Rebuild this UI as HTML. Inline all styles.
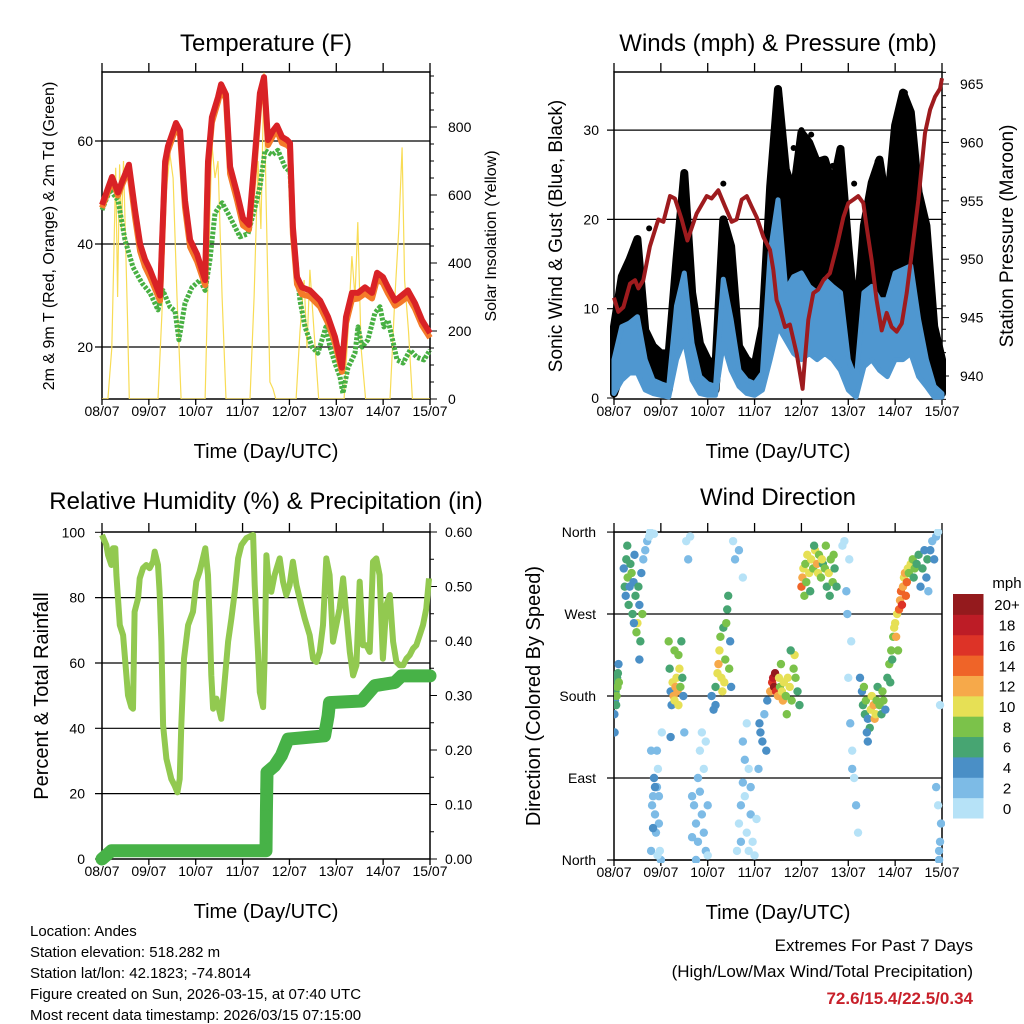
<!DOCTYPE html>
<html><head><meta charset="utf-8"><style>
html,body{margin:0;padding:0;background:#fff}
svg{display:block}
text{font-family:"Liberation Sans",Arial,sans-serif;fill:#000}
</style></head><body>
<svg id="s" width="1024" height="1024" viewBox="0 0 1024 1024" xmlns="http://www.w3.org/2000/svg">
<rect width="1024" height="1024" fill="#fff"/>
<g id="g"></g>
</svg>
<script>
// ---------- Temperature panel data ----------
const tempHours=[0,5.1,8.2,10.2,13.8,16.9,19.5,22,24.6,29.7,32.3,33.8,37.9,40,42.5,45.1,48.7,52.8,54.3,56.3,59.4,61,63.5,65.6,69.1,72.2,75.3,78.4,80.9,83,85,87.6,89.6,92.2,94.8,96.3,97.8,99.9,102.4,106.5,111.7,115.8,119.3,122.9,125,128,131.1,134.7,138.3,140.9,143.9,146.5,150.1,152.6,156.7,160.3,163.9,168];
const temp2m=[47.6,53,50,52,55.4,46.6,40,37,35,30,56,59,63.5,62,48.5,40.8,38,33,56,64.6,68.5,71,69,55,50,45,43.7,57.7,69.3,72.4,60.2,62,63,60.8,60.2,59.6,43.3,33.6,31.6,31,29,25.8,22,16,25.8,30.5,30.5,31.6,30.5,34.4,33.6,31.6,29,29.7,31,28.5,25.2,22.7];
const temp9m=[47.4,52.8,49.8,51.8,55,45.6,39,36,34,29.4,55.5,58.5,63,61.5,47.5,39.8,37,32.4,55.5,64,68,70.6,68.5,54,49,44,43.2,57,69,72,59.6,61.4,62.4,60,59.6,59,42.3,32.6,30.6,30.2,28.2,25,21.2,15.6,25,29.6,29.8,30.8,29.8,33.6,32.8,30.8,28.4,29,30.2,27.8,24.6,22.2];
const dewHours=[0,4.1,8.2,11.8,15.9,20.5,24.6,28.7,31.2,34.8,37.4,39.4,42.5,46.1,50.2,52.8,55.3,57.9,61.5,64.5,68.1,70.7,74.8,78.4,80.9,83.5,87.1,90.1,93.7,96.3,97.8,99.9,101.4,104,107.6,110.6,112.7,114.7,116.8,119.3,121.9,123.4,126,129.6,131.1,133.2,136.2,139.8,142.4,144.4,146.5,148.5,151.1,154.2,157.8,161.3,164.9,168];
const dewPoint=[46.6,50.5,48.5,40.8,35.5,32.4,30.5,27.2,31,27.8,27,21.4,28.5,31.6,33,31,37,46,48,46,43.3,41.4,42,47.2,51,58.2,57.3,58.2,55,54,43.3,34.4,29,23.9,20,18.8,21.4,23.9,20,16.9,14.2,11,16,18.8,23.9,20,21.4,26.6,27.8,23.9,25.2,22,17.5,16.9,19.4,18,17.5,19.4];
const solarHours=[0,3,5,6,7,8,9,10,11,13,14,28.7,30.7,32.8,34.8,36.4,38.4,40.5,52.8,54.3,56.3,57.9,59.4,61.5,63.5,75.8,77.9,79.9,81.4,83,84,86,87.6,89,99.4,101.4,103.5,105,106.5,108.6,111,124,126,128,129.6,131,132.7,135,147.5,150,152,153.7,155,157,159,168];
const solarVals=[0,0,150,400,680,300,690,500,700,250,0,0,250,600,720,650,300,0,0,350,750,650,700,300,0,0,300,700,500,960,600,50,30,0,0,200,350,150,380,200,0,0,200,420,300,520,150,0,0,300,500,740,350,200,0,0];
const tempTicks=[20,40,60];
const solarTicks=[0,200,400,600,800];
const dayLabels=["08/07","09/07","10/07","11/07","12/07","13/07","14/07","15/07"];

// ---------- Winds panel data ----------
const windHours=[0,4,8,12,16,20,24,28,32,36,40,44,48,52,56,60,64,68,72,76,80,84,88,92,96,100,104,108,112,116,120,124,128,132,136,140,144,148,152,156,160,164,168];
const gustHigh=[8,13.6,15.5,17.8,7.6,5.8,5,5,15.5,25.2,11.8,6.1,4.3,3.6,20,17,5.8,4.3,3.6,8,23.7,34.6,25.6,23,29.7,28.6,26.4,26.7,23.7,27.9,17,8,19.3,24.1,26.7,21.1,30.5,34.2,32,23,19.3,8,4.3];
const gustLow=[0.5,3.1,5.4,5.8,3.5,1.3,0.9,0.9,8,11.8,5,2,1.3,0.9,11.8,8.8,3.1,1.6,1.3,2,11.8,15.5,11.8,12.1,11,11.8,11.8,11.8,10.6,10.3,5,3.1,8.8,11.8,11,10.3,11.8,13.6,11.8,8,5,2.4,0.5];
const windHigh=[4.3,8,8.4,9.1,4.3,2,1.6,1.3,10.3,14,6.1,2.4,1.6,1.3,13.3,8.8,3.1,2,1.6,2.8,16.3,22.2,12.1,13.6,14,12.5,11.8,13.3,12.5,11.8,4.3,2,11.8,12.5,11,11,14,14.4,14.8,8.8,4.3,1.3,0.5];
const windLow=[0.5,2,2.8,2.8,0.9,0.5,0.3,0.1,4.3,6.5,2,0.5,0.3,0.3,6.1,3.1,1.3,0.5,0.3,0.9,4.3,8,6.5,5,4.3,5,4.3,5,4.3,3.1,0.9,0.1,3.5,4.3,3.1,2.4,4.3,4.3,5,2.4,1.3,0.1,0.1];
const gustOutHours=[84,85,96,92,101,112,123,135,146,149,150,18,36,56];
const gustOutVals=[34.6,33.5,30,28,29.5,26,24,26.5,31.5,34.2,33,19,24.5,24];
const presHours=[0,2.2,4.8,8.2,10.8,12.5,15,18.4,22.7,25.3,28.7,31.2,34.7,37.6,42.3,47.5,50,53.4,56.9,60.3,62.8,65.4,68,70.5,73.1,76.5,79.9,81.6,83.3,85,87.6,90.1,93.6,96.6,97.8,99.5,102.1,104.6,107.2,110.6,114.1,117.5,120,122.6,125.1,127.7,129.4,132,134.5,137.1,139.7,142.2,144.8,147.4,149.9,152.5,155.9,159.3,161.9,164.4,167,168];
const pressure=[946.7,945.5,945.9,947.9,948.2,947.5,948.2,951.1,953.4,953.2,955.4,955.2,953.4,951.6,953.9,955.4,955.2,955.9,954.5,953.2,953.4,955.1,955.4,954.5,953.6,951.9,950.8,949.1,946.5,945.7,944.2,944.4,941.9,938.9,941.4,944.8,947.1,947.4,948.2,948.8,951.1,953.6,954.8,955.1,955.4,954.8,952.8,949.9,946.5,943.9,945.4,944.2,943.8,944.5,947.1,950.5,955.1,960.8,962.8,963.9,964.6,965.5];
const windTicks=[0,10,20,30];
const presTicks=[940,945,950,955,960,965];

// ---------- RH panel data ----------
const rhHours=[0,2.2,3.1,4.8,5.6,6.8,7.4,9.1,10.8,12.5,13.3,15,15.9,16.7,18.5,19.3,21,22.7,24.4,26.1,27,28.7,29.5,30.4,31.3,33,35.5,37.2,38.6,39.8,40.6,42,44.1,46.6,48.3,50,51.7,52.9,54.3,55.2,56,56.9,58.6,60.3,61.1,62.8,64.6,66.3,68,69.7,71.4,73.9,75.6,77.4,78.2,79.1,79.9,80.8,82.5,83.3,84.2,85,86.7,88.4,91,92.7,94.4,96.1,97.8,99.6,102.1,103.8,106.4,108.1,109.8,111.5,113.2,114.9,116.6,118.3,120,121.7,123.5,125.2,126.9,128.6,130.3,132,133.7,135.4,137.1,138.8,140.5,142.2,143.9,145.6,147.4,149.1,150.8,152.5,154.2,155.9,157.6,159.3,161,162.7,164.4,166.1,167.5];
const rhVals=[99.2,96.1,93,90,95.1,95.1,86.9,71.6,68.5,56.2,50.1,46.5,46,75.7,79.8,85.9,89,90,89,91,94.1,90,81.8,66.5,40.9,30.7,24.5,22.5,20.4,24.5,40.9,61.3,71.6,75.7,84.9,87.9,92,95.1,86.9,71.6,56.2,46,49.1,45,42.9,54.2,66.5,73.6,81.8,92,96.1,98.2,98.7,99.2,83.8,72.6,63.4,51.1,46.5,61.3,93,86.9,81.8,86.9,92,84.9,80.8,83.8,91,83.8,77.7,73.6,68.5,61.3,60.3,63.4,71.6,92,86.9,66.5,71.6,76.7,85.9,74.6,63.4,56.2,59.3,84.9,65.4,65.4,63.4,91,92,86.9,61.3,77.7,80.8,66.5,60.3,59.3,59.3,61.3,62.4,64.4,65.4,68.5,71.6,76.7,85.9];
const rainHours=[0,4.8,84,84.2,84.5,88.4,91.9,95.3,114,115.8,116.5,132.9,139.7,150,153.4,168];
const rainVals=[0,0.015,0.015,0.086,0.159,0.171,0.19,0.22,0.226,0.263,0.287,0.29,0.318,0.324,0.336,0.336];
const rainDots=[0.04,0.06,0.08,0.128];
const rhTicks=[0,20,40,60,80,100];
const rainTicks=[0,0.1,0.2,0.3,0.4,0.5,0.6];

// ---------- Wind direction data ----------
const dirHours=[0.2,0.5,0.8,1,1.3,1.6,1.8,2,2.3,0.3,1.1,2.5,
5,5.5,6,6.3,7,7.5,8,8.4,9,9.5,10,10.5,11,11.5,12,12.5,13,13.5,14,15,16,14.5,6.8,10.2,13,
17,18,18.5,19,19.5,20,20.5,21,21.5,22,22.5,23,23.5,24,19,20,21,22,23,24.5,20.5,22.3,
28,28.5,29,29.5,30,30.5,31,31.5,32,32.5,33,33.5,34,34.5,35,35.5,29,31,33,36,
37,38,39,40,41,42,43,44,45,46,47,48,43,44,45,46,47,42,40,48,
50,51,52,53,53.5,54,54.5,55,55.5,56,57,57.5,58,58.5,59,59.5,60,56.5,52,
61,62,63,64,65,66,67,68,69,70,71,66,67,68,69,70,72,65,64,66,73,74,
74.5,75,76,77,78,78.5,
80,81,81.5,82,82.5,83,84,84.5,85,86,86.5,87,88,89,90,91,92,93,94,95,88.5,92.5,85.5,90.5,
96,96.5,97,98,98.5,99,100,101,102,103,104,104.5,105,106,107,108,109,110,111,112,113,114,97.5,100.5,102.5,106.5,108.5,110.5,112.5,
117,118,119,119.5,120,121,122,123,124,125,120.5,122,121.5,
126,127,127.5,128,128.5,129,130,131,131.5,132,133,133.5,134,134.5,135,136,137,137.5,138,139,130,129.5,
140,141,141.5,142,143,143.5,144,144.5,145,146,146.5,147,147.5,148,148.5,149,150,150.5,151,152,153,153.5,154,142.5,145.5,149.5,
155,156,157,158,159,160,161,160.5,162,163,164,165,166,166.5,167,167.5,166,165,166.5,167];
const dirDegrees=[160,175,185,195,180,200,190,205,215,140,170,195,
320,300,290,330,310,280,300,325,315,270,305,335,290,250,260,300,280,240,315,330,340,270,345,260,220,
350,355,360,10,60,70,90,50,30,80,100,40,10,0,120,35,80,120,70,140,358,5,
240,210,185,170,195,180,175,190,200,185,225,210,190,240,200,180,135,230,170,140,
350,330,355,70,60,40,20,75,50,30,10,5,90,120,140,100,130,0,25,60,
180,165,190,205,215,230,245,200,185,255,220,260,275,290,210,240,190,195,170,
350,330,10,40,60,85,70,30,10,50,20,130,110,150,100,80,5,20,340,310,45,100,
150,140,130,160,120,175,
185,195,200,190,205,185,180,200,190,185,175,195,180,200,190,175,210,200,185,170,160,225,215,230,
300,310,320,325,305,335,315,330,320,340,325,315,335,310,325,320,300,315,330,305,320,300,290,295,345,330,345,290,335,
345,350,295,270,200,150,120,90,60,30,330,100,240,
200,185,170,190,160,175,155,145,165,180,170,155,160,175,190,170,160,185,175,165,130,140,
200,215,195,230,245,255,260,245,270,275,285,295,280,300,310,315,305,320,315,325,330,310,320,220,230,290,
325,335,300,320,340,310,295,330,340,350,330,355,360,0,20,40,60,80,10,170];
const dirSpeeds=[4,4,6,6,8,6,8,6,4,4,6,8,
4,6,4,6,8,6,4,6,8,6,4,4,6,8,10,6,4,6,4,2,2,8,6,4,4,
2,0,0,2,2,2,4,2,2,2,0,2,0,2,2,4,4,2,2,0,0,0,
8,6,4,4,10,12,10,12,10,12,8,10,8,6,6,4,4,8,10,2,
0,2,0,2,2,2,2,2,2,2,2,0,2,0,0,0,0,2,2,2,
4,4,6,10,12,10,8,10,10,6,8,8,6,6,8,4,4,10,4,
0,2,0,0,2,2,0,0,0,2,0,2,2,0,0,2,0,2,2,0,0,2,
4,4,4,2,4,4,
12,16,18,20,20,16,12,10,8,10,12,10,8,10,10,8,8,8,6,6,8,10,8,6,
14,12,10,8,8,10,10,10,8,10,12,10,8,8,6,8,6,10,8,8,6,6,8,6,6,10,8,6,8,
0,0,2,2,0,2,0,0,2,0,0,2,0,
4,4,6,8,6,8,4,6,10,10,12,12,10,8,6,8,6,8,8,4,4,4,
6,8,6,8,8,10,10,12,10,14,12,14,16,12,10,12,14,10,8,10,8,6,8,6,8,14,
6,6,4,6,4,4,2,6,4,2,4,2,0,2,2,2,0,2,2,0];
const dirTickNames=["North","East","South","West","North"];
const dirTickDeg=[0,90,180,270,360];
const speedLabels=["0","2","4","6","8","10","12","14","16","18","20+"];
const speedColors=["#b6e2f7","#7dbbe6","#4a8fc6","#47a572","#7bc24a","#e6e055","#f6a94a","#ef6428","#dd3327","#bd1c26","#941a1d"];
</script>
<script>
const NS="http://www.w3.org/2000/svg";
const G=document.getElementById('g');
function mk(tag,attrs,parent){const e=document.createElementNS(NS,tag);for(const k in attrs)e.setAttribute(k,attrs[k]);(parent||G).appendChild(e);return e;}
function txt(str,x,y,size,anchor,parent,extra){const e=mk('text',Object.assign({x:x,y:y,'font-size':size,'text-anchor':anchor||'middle'},extra||{}),parent);e.textContent=str;return e;}
function pathFrom(xs,ys,fx,fy){let d='';for(let i=0;i<xs.length;i++){d+=(i?'L':'M')+fx(xs[i]).toFixed(1)+','+fy(ys[i]).toFixed(1);}return d;}
function band(xs,hi,lo,fx,fy){let d='';for(let i=0;i<xs.length;i++)d+=(i?'L':'M')+fx(xs[i]).toFixed(1)+','+fy(hi[i]).toFixed(1);for(let i=xs.length-1;i>=0;i--)d+='L'+fx(xs[i]).toFixed(1)+','+fy(lo[i]).toFixed(1);return d+'Z';}

function frame(name,L,T,R,B){
  const g=mk('g',{});
  
  
  mk('rect',{x:L,y:T,width:R-L,height:B-T,fill:'none',stroke:'#000','stroke-width':1.5},g);
  for(let d=0;d<=7;d++){const x=L+d*(R-L)/7;
    mk('line',{x1:x,y1:T,x2:x,y2:T-9,stroke:'#000','stroke-width':1.3},g);
    mk('line',{x1:x,y1:B,x2:x,y2:B+6,stroke:'#000','stroke-width':1.3},g);
    const t=txt(dayLabels[d],x,B+17,14,'middle',g);
    
    
  }
  const at=txt('Time (Day/UTC)',(L+R)/2,B+59,20,'middle',g);
  
  
  return g;
}
function hgrid(g,y,L,R){mk('line',{x1:L-7,y1:y,x2:R,y2:y,stroke:'#000','stroke-width':1.2},g);}
function rtick(g,y,R,len){mk('line',{x1:R,y1:y,x2:R+len,y2:y,stroke:'#000','stroke-width':1},g);}

// ====== Panel 1: Temperature ======
(function(){
const L=102,R=430,T=72,B=399;
const xT=h=>L+h*(R-L)/168, yT=v=>347-(v-20)*5.15, yS=s=>399-s*0.34;
const g=frame('temperature',L,T,R,B);
const ti=txt('Temperature (F)',266,51,24,'middle');


tempTicks.forEach(v=>{hgrid(g,yT(v),L,R);const t=txt(String(v),93,yT(v)+5,14,'end',g);});
for(let v=0;v<=950;v+=50){rtick(g,yS(v),R,v%200===0?7:4);}
solarTicks.forEach(v=>{const t=txt(String(v),448,yS(v)+5,14,'start',g);});
const yl=txt('2m & 9m T (Red, Orange) & 2m Td (Green)',0,0,16,'middle',g,{transform:'translate(54,236) rotate(-90)'});


const yr=txt('Solar Insolation (Yellow)',0,0,16,'middle',g,{transform:'translate(496,236) rotate(-90)'});


const cp=mk('clipPath',{id:'c1'});mk('rect',{x:L,y:T,width:R-L,height:B-T},cp);
const solar=mk('path',{d:pathFrom(solarHours,solarVals,xT,yS),fill:'none',stroke:'#f8dc55','stroke-width':1.2,'clip-path':'url(#c1)'});


const dew=mk('path',{d:pathFrom(dewHours,dewPoint,xT,yT),fill:'none',stroke:'#48b043','stroke-width':5,'stroke-dasharray':'3 1.5','stroke-linejoin':'round'});


const t9=mk('path',{d:pathFrom(tempHours,temp9m,xT,yT),fill:'none',stroke:'#f47a29','stroke-width':6,'stroke-linejoin':'round',transform:'translate(0,2)'});


const t2=mk('path',{d:pathFrom(tempHours,temp2m,xT,yT),fill:'none',stroke:'#d92226','stroke-width':6,'stroke-linejoin':'round'});


})();

// ====== Panel 2: Winds ======
(function(){
const L=614,R=942,T=72,B=399;
const xW=h=>L+h*(R-L)/168, yW=m=>398-m*8.93, yP=p=>376-(p-940)*11.68;
const g=frame('winds',L,T,R,B);
const ti=txt('Winds (mph) & Pressure (mb)',778,51,24,'middle');


windTicks.forEach(v=>{if(v>0)hgrid(g,yW(v),L,R);else mk('line',{x1:L-7,y1:yW(v),x2:L,y2:yW(v),stroke:'#000'},g);const t=txt(String(v),599,yW(v)+5,14,'end',g);});
for(let p=938;p<=966;p+=1){rtick(g,yP(p),R,p%5===0?7:4);}
presTicks.forEach(v=>{const t=txt(String(v),960,yP(v)+5,14,'start',g);});
const yl=txt('Sonic Wind & Gust (Blue, Black)',0,0,19,'middle',g,{transform:'translate(562,236) rotate(-90)'});


const yr=txt('Station Pressure (Maroon)',0,0,19,'middle',g,{transform:'translate(1013,236) rotate(-90)'});


const gust=mk('path',{d:band(windHours,gustHigh,gustLow,xW,yW),fill:'#000',stroke:'#000','stroke-width':8,'stroke-linejoin':'round'});


gustOutHours.forEach((h,i)=>{const c=mk('circle',{cx:xW(h),cy:yW(gustOutVals[i]),r:3,fill:'#000'});

});
const wind=mk('path',{d:band(windHours,windHigh,windLow,xW,yW),fill:'#4f97d0',stroke:'#4f97d0','stroke-width':5,'stroke-linejoin':'round'});


const pr=mk('path',{d:pathFrom(presHours,pressure,xW,yP),fill:'none',stroke:'#9e1b1e','stroke-width':4,'stroke-linejoin':'round'});


})();

// ====== Panel 3: RH & Precip ======
(function(){
const L=102,R=430,T=532,B=859;
const xR=h=>L+h*(R-L)/168, yR=v=>859-v*3.267, yPr=p=>859-p*545;
const g=frame('humidity',L,T,R,B);
const ti=txt('Relative Humidity (%) & Precipitation (in)',266,509,24,'middle');


rhTicks.forEach(v=>{if(v>0&&v<100)hgrid(g,yR(v),L,R);else mk('line',{x1:L-7,y1:yR(v),x2:L,y2:yR(v),stroke:'#000'},g);const t=txt(String(v),85,yR(v)+5,14,'end',g);});
for(let i=0;i<=12;i++){rtick(g,yPr(i*0.05),R,i%2===0?7:4);}
rainTicks.forEach(v=>{const t=txt(v.toFixed(2),445,yPr(v)+5,14,'start',g);});
const yl=txt('Percent & Total Rainfall',0,0,20,'middle',g,{transform:'translate(48,696) rotate(-90)'});


const rh=mk('path',{d:pathFrom(rhHours,rhVals,xR,yR),fill:'none',stroke:'#92c950','stroke-width':6,'stroke-linejoin':'round'});


const rn=mk('path',{d:pathFrom(rainHours,rainVals,xR,yPr),fill:'none',stroke:'#47b247','stroke-width':13,'stroke-linejoin':'round','stroke-linecap':'round'});


rainDots.forEach(v=>{const c=mk('circle',{cx:xR(84.2),cy:yPr(v),r:6,fill:'#47b247'});

});
})();

// ====== Panel 4: Wind Direction ======
(function(){
const L=614,R=942,T=532,B=860;
const xD=h=>L+h*(R-L)/168, yD=d=>860-d*0.911;
const g=frame('wind-direction',L,T,R,B);
const ti=txt('Wind Direction',778,505,24,'middle');


dirTickDeg.forEach((d,i)=>{hgrid(g,yD(d),L,R);const t=txt(dirTickNames[i],596,yD(d)+5,14,'end',g);});
const yl=txt('Direction (Colored By Speed)',0,0,20,'middle',g,{transform:'translate(540,696) rotate(-90)'});


const cp=mk('clipPath',{id:'c4'});mk('rect',{x:L,y:T-3,width:R-L+3,height:B-T+6},cp);
const pts=mk('g',{'clip-path':'url(#c4)'});


dirHours.forEach((h,i)=>{const idx=Math.min(10,Math.floor(dirSpeeds[i]/2));
const c=mk('circle',{cx:xD(h),cy:yD(dirDegrees[i]),r:4.2,fill:speedColors[idx]},pts);

});
// colorbar
const cb=mk('g',{});


const top=594,bot=818,h=(bot-top)/11;
for(let i=0;i<11;i++){const y=bot-(i+1)*h;
mk('rect',{x:953,y:y,width:30.5,height:h+0.5,fill:speedColors[i]},cb);
const t=txt(speedLabels[i],1007,y+h/2+6,15,'middle',cb);

}
const mu=txt('mph',1007,588,15,'middle',cb);


})();

// ====== Footer ======
(function(){
const f=mk('g',{});


const lines=["Location: Andes","Station elevation: 518.282 m","Station lat/lon: 42.1823; -74.8014","Figure created on Sun, 2026-03-15, at 07:40 UTC","Most recent data timestamp: 2026/03/15 07:15:00"];
const ys=[936,957,978,999,1020];
lines.forEach((s,i)=>{const t=txt(s,30,ys[i],15,'start',f);});
const e=mk('g',{});


txt('Extremes For Past 7 Days',973,951,17,'end',e);
txt('(High/Low/Max Wind/Total Precipitation)',973,977,17,'end',e);
const v=txt('72.6/15.4/22.5/0.34',973,1004,17,'end',e,{'font-weight':'bold'});
v.setAttribute('fill','#c8202a');v.style.fill='#c8202a';
})();
</script>
</body></html>
